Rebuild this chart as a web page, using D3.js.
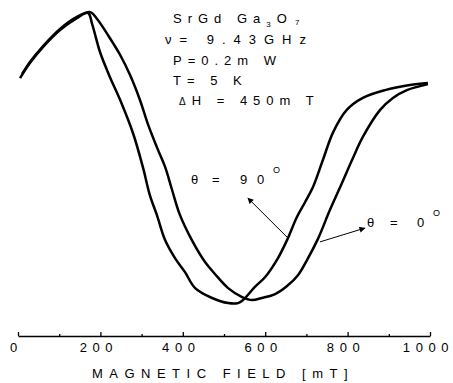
<!DOCTYPE html>
<html>
<head>
<meta charset="utf-8">
<script src="https://cdn.jsdelivr.net/npm/d3@7"></script>
<style>
  body { margin: 0; background: #fff; }
  text { font-family: "Liberation Sans", Arial, sans-serif; fill: #000; }
</style>
</head>
<body>
<script>
// theta = 90 deg trace (field in mT, signal in arb. units)
const fieldA  = [5, 29, 61, 102, 143, 170, 180, 199, 223, 248, 279, 303, 320, 337, 357, 381, 405, 430, 471, 510, 534, 546, 575, 600, 631, 653, 677, 697, 716, 740, 765, 798, 837, 891, 951, 995];
const signalA = [77.3, 82.3, 87.7, 93.3, 97.3, 99.0, 95.3, 86, 77.7, 70, 59, 47.7, 38.3, 31.7, 23.3, 17.3, 12.7, 7.3, 4, 2.3, 2.3, 3.3, 7.7, 11, 17.3, 23.3, 31, 36, 41, 50, 59.3, 66.7, 70.7, 73.3, 75, 75.7];

// theta = 0 deg trace
const fieldB  = [10, 29, 61, 102, 143, 175, 192, 218, 248, 272, 296, 316, 337, 357, 374, 393, 422, 454, 478, 510, 544, 568, 592, 624, 653, 680, 704, 728, 757, 782, 813, 837, 879, 910, 944, 995];
const signalB = [78.7, 82.7, 88.0, 93.7, 97.7, 99.3, 97.0, 91.7, 85.0, 78.3, 70.0, 61.7, 54.3, 47.7, 40.0, 31.7, 23.3, 16.0, 12.0, 7.3, 4.3, 3.3, 4.0, 5.3, 8, 11.7, 17.3, 23.7, 33.3, 41.0, 50.7, 57.7, 66.7, 70.7, 73.3, 75.3];

const majorTicks = [0, 200, 400, 600, 800, 1000];
const minorTicks = [100, 300, 500, 700, 900];
const xTitle = "MAGNETIC FIELD [mT]";

const width = 453, height = 383;

const svg = d3.select("body").append("svg")
    .attr("width", width)
    .attr("height", height)
    .style("display", "block");

svg.append("rect").attr("width", width).attr("height", height).attr("fill", "#fff");

const x = d3.scaleLinear().domain([0, 1000]).range([18, 430]);
const y = d3.scaleLinear().domain([0, 100]).range([310, 10]);
const axisY = 336;

// arrow head
svg.append("defs").append("marker")
    .attr("id", "head")
    .attr("viewBox", "0 0 10 10")
    .attr("refX", 9).attr("refY", 5)
    .attr("markerWidth", 9).attr("markerHeight", 6)
    .attr("markerUnits", "userSpaceOnUse")
    .attr("orient", "auto")
  .append("path")
    .attr("d", "M0,0L10,5L0,10z")
    .attr("fill", "#000");

// curves
const line = d3.line()
    .x(d => x(d[0]))
    .y(d => y(d[1]))
    .curve(d3.curveCatmullRom.alpha(0.5));

[[fieldA, signalA], [fieldB, signalB]].forEach(([f, s]) => {
    svg.append("path")
        .datum(f.map((v, i) => [v, s[i]]))
        .attr("d", line)
        .attr("fill", "none")
        .attr("stroke", "#000")
        .attr("stroke-width", 2.5)
        .attr("stroke-linejoin", "round");
});

// x axis: major ticks with labels, minor ticks pointing up
const gx = svg.append("g").attr("transform", `translate(0,${axisY})`);
gx.call(d3.axisBottom(x).tickValues(majorTicks).tickSizeInner(-4).tickSizeOuter(0).tickPadding(7).tickFormat(d3.format("d")));
gx.append("g").call(d3.axisBottom(x).tickValues(minorTicks).tickSizeInner(-2).tickSizeOuter(0).tickFormat(""))
    .select(".domain").remove();
gx.selectAll("path, line").attr("stroke", "#000").attr("stroke-width", 1.3);
gx.selectAll("text")
    .attr("font-size", 13)
    .attr("font-family", "Liberation Sans, Arial, sans-serif")
    .attr("letter-spacing", "5.6px")
    .attr("dx", -2);

svg.append("text")
    .attr("x", 223).attr("y", 378)
    .attr("text-anchor", "middle")
    .attr("font-size", 13)
    .attr("letter-spacing", "6.5px")
    .text(xTitle);

// parameter block
const info = svg.append("g").attr("font-size", 13).attr("letter-spacing", "6px");
const l1 = info.append("text").attr("x", 173).attr("y", 23);
l1.append("tspan").text("SrGd Ga");
l1.append("tspan").attr("font-size", 8).attr("dy", 4).text("3");
l1.append("tspan").attr("dy", -4).text("O");
l1.append("tspan").attr("font-size", 8).attr("dy", 2).attr("dx", 2).text("7");
info.append("text").attr("x", 165).attr("y", 44).attr("letter-spacing", "8px").text("\u03bd= 9.43GHz");
info.append("text").attr("x", 173).attr("y", 65).text("P=0.2m W");
info.append("text").attr("x", 173).attr("y", 85).text("T= 5  K");
const l5 = info.append("text").attr("x", 179).attr("y", 105);
l5.append("tspan").attr("font-size", 10).text("\u0394");
l5.append("tspan").text("H = 450m T");

// angle labels with arrows
function angleLabel(xs, y0, parts) {
    const t = svg.append("text").attr("y", y0).attr("font-size", 13);
    parts.forEach((p, i) => t.append("tspan").attr("x", xs[i]).text(p));
    t.append("tspan").attr("x", xs[parts.length]).attr("font-size", 9).attr("dy", -11).text("O");
}
angleLabel([191, 212, 240, 257, 273], 184, ["\u03b8", "=", "9", "0"]);
angleLabel([367, 390, 417, 433], 227, ["\u03b8", "=", "0"]);

svg.append("line")
    .attr("x1", x(653)).attr("y1", y(24.3))
    .attr("x2", x(558)).attr("y2", y(37.3))
    .attr("stroke", "#000").attr("stroke-width", 1)
    .attr("marker-end", "url(#head)");
svg.append("line")
    .attr("x1", x(733)).attr("y1", y(22.7))
    .attr("x2", x(842)).attr("y2", y(27.3))
    .attr("stroke", "#000").attr("stroke-width", 1)
    .attr("marker-end", "url(#head)");
</script>
</body>
</html>
